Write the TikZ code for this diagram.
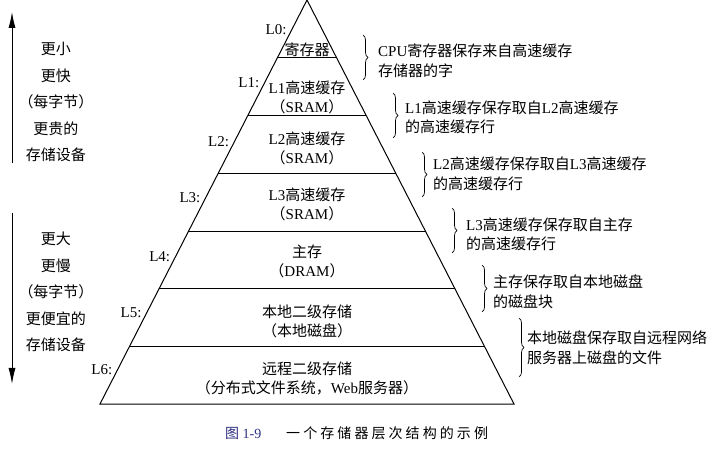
\documentclass[tikz,border=0pt]{standalone}
\usepackage{fontspec}
\setmainfont{Liberation Serif}
\newfontfamily\cjk{Noto Sans CJK SC}
\newfontfamily\cjkcap[LetterSpace=22]{Noto Sans CJK SC}
\usetikzlibrary{calc,decorations.pathreplacing,arrows.meta}
\newcommand\zh[1]{{\cjk #1}}
\definecolor{capblue}{RGB}{45,48,130}
\begin{document}
\begin{tikzpicture}[x=1pt,y=-1pt,
  lvl/.style={align=center, inner sep=0pt, font=\fontsize{15}{19}\selectfont},
  lab/.style={anchor=east, inner sep=0pt, font=\fontsize{15}{19}\selectfont},
  note/.style={anchor=west, align=left, inner sep=0pt, font=\fontsize{15}{19.5}\selectfont},
  brc/.style={decorate, decoration={brace, amplitude=5pt}, line width=0.7pt},
  side/.style={align=center, inner sep=0pt, font=\fontsize{15}{26.5}\selectfont},
  arr/.style={line width=0.9pt, -{Latex[length=16pt,width=7pt]}}]
\useasboundingbox (0,0) rectangle (713,449);
% pyramid
\coordinate (apex) at (307,0);
\coordinate (bl) at (100,404);
\coordinate (br) at (514,404);
\draw[line width=1pt, line join=miter] (apex) -- (bl) -- (br) -- cycle;
\foreach \yy/\nm in {58/b1,116/b2,174/b3,232/b4,289/b5,347/b6}{
  \draw[line width=1pt] ($(apex)!{\yy/404}!(bl)$) coordinate (\nm l) -- ($(apex)!{\yy/404}!(br)$) coordinate (\nm r);
}
% level labels
\foreach \yy/\t [count=\i from 0] in {30/L0,83/L1,142/L2,198/L3,257/L4,313/L5,370/L6}{
  \node[lab, xshift=-5pt] (lab\i) at ($(apex)!{\yy/404}!(bl)$) {\t:};
}
% level contents
\node[lvl] (t0) at (307,50) {\zh{寄存器}};
\node[lvl] (t1) at (307,97.5) {L1\zh{高速缓存}\\\zh{（}SRAM\zh{）}};
\node[lvl] (t2) at (307,148) {L2\zh{高速缓存}\\\zh{（}SRAM\zh{）}};
\node[lvl] (t3) at (307,204) {L3\zh{高速缓存}\\\zh{（}SRAM\zh{）}};
\node[lvl] (t4) at (307,261) {\zh{主存}\\\zh{（}DRAM\zh{）}};
\node[lvl] (t5) at (307,321) {\zh{本地二级存储}\\\zh{（本地磁盘）}};
\node[lvl] (t6) at (307,378) {\zh{远程二级存储}\\\zh{（分布式文件系统，}Web\zh{服务器）}};
% braces and notes
\coordinate (c1t) at (363,35);  \coordinate (c1b) at (363,80);
\coordinate (c2t) at (393,93);  \coordinate (c2b) at (393,138);
\coordinate (c3t) at (422,152); \coordinate (c3b) at (422,197);
\coordinate (c4t) at (452,208); \coordinate (c4b) at (452,253);
\coordinate (c5t) at (482,265); \coordinate (c5b) at (482,312);
\coordinate (c6t) at (519,318); \coordinate (c6b) at (519,377);
\foreach \i in {1,...,6}{ \draw[brc] (c\i t) -- (c\i b); }
\node[note] (n1) at (378,61) {CPU\zh{寄存器保存来自高速缓存}\\\zh{存储器的字}};
\node[note] (n2) at (405,117.5) {L1\zh{高速缓存保存取自}L2\zh{高速缓存}\\\zh{的高速缓存行}};
\node[note] (n3) at (433,174) {L2\zh{高速缓存保存取自}L3\zh{高速缓存}\\\zh{的高速缓存行}};
\node[note] (n4) at (466,234.5) {L3\zh{高速缓存保存取自主存}\\\zh{的高速缓存行}};
\node[note] (n5) at (493,291.5) {\zh{主存保存取自本地磁盘}\\\zh{的磁盘块}};
\node[note] (n6) at (527,347.5) {\zh{本地磁盘保存取自远程网络}\\\zh{服务器上磁盘的文件}};
% left side
\coordinate (u0) at (12,163); \coordinate (u1) at (12,12);
\coordinate (d0) at (12,213); \coordinate (d1) at (12,384);
\draw[arr] (u0) -- (u1);
\draw[arr] (d0) -- (d1);
\node[side] (s1) at (56,102) {\zh{更小}\\\zh{更快}\\\zh{（每字节）}\\\zh{更贵的}\\\zh{存储设备}};
\node[side] (s2) at (56,292) {\zh{更大}\\\zh{更慢}\\\zh{（每字节）}\\\zh{更便宜的}\\\zh{存储设备}};
% caption
\node[anchor=west, inner sep=0pt, text=capblue, font=\fontsize{14}{16}\selectfont] (cap1) at (225,433) {\zh{图} 1-9};
\node[anchor=west, inner sep=0pt, font=\fontsize{14}{16}\selectfont] (cap2) at (286,433) {\cjkcap 一个存储器层次结构的示例};
\end{tikzpicture}
\end{document}
